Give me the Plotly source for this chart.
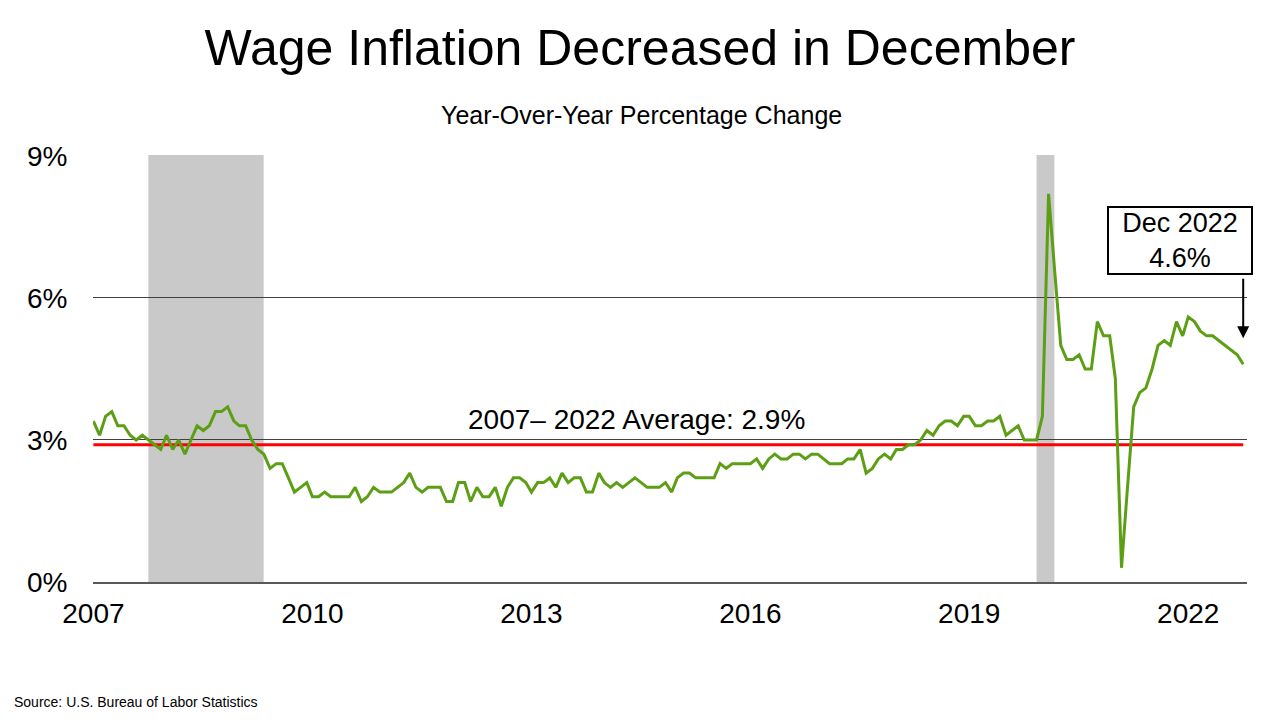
import pandas as pd
import plotly.graph_objs as go

# average hourly earnings, year-over-year % change, monthly from Mar 2007
wage_growth = [
    3.4, 3.1, 3.5, 3.6, 3.3, 3.3, 3.1, 3.0, 3.1, 3.0,            # 2007 Mar-Dec
    2.9, 2.8, 3.1, 2.8, 3.0, 2.7, 3.0, 3.3, 3.2, 3.3, 3.6, 3.6,  # 2008
    3.7, 3.4, 3.3, 3.3, 3.0, 2.8, 2.7, 2.4, 2.5, 2.5, 2.2, 1.9,  # 2009
    2.0, 2.1, 1.8, 1.8, 1.9, 1.8, 1.8, 1.8, 1.8, 2.0, 1.7, 1.8,  # 2010
    2.0, 1.9, 1.9, 1.9, 2.0, 2.1, 2.3, 2.0, 1.9, 2.0, 2.0, 2.0,  # 2011
    1.7, 1.7, 2.1, 2.1, 1.7, 2.0, 1.8, 1.8, 2.0, 1.6, 2.0, 2.2,  # 2012
    2.2, 2.1, 1.9, 2.1, 2.1, 2.2, 2.0, 2.3, 2.1, 2.2, 2.2, 1.9,  # 2013
    1.9, 2.3, 2.1, 2.0, 2.1, 2.0, 2.1, 2.2, 2.1, 2.0, 2.0, 2.0,  # 2014
    2.1, 1.9, 2.2, 2.3, 2.3, 2.2, 2.2, 2.2, 2.2, 2.5, 2.4, 2.5,  # 2015
    2.5, 2.5, 2.5, 2.6, 2.4, 2.6, 2.7, 2.6, 2.6, 2.7, 2.7, 2.6,  # 2016
    2.7, 2.7, 2.6, 2.5, 2.5, 2.5, 2.6, 2.6, 2.8, 2.3, 2.4, 2.6,  # 2017
    2.7, 2.6, 2.8, 2.8, 2.9, 2.9, 3.0, 3.2, 3.1, 3.3, 3.4, 3.4,  # 2018
    3.3, 3.5, 3.5, 3.3, 3.3, 3.4, 3.4, 3.5, 3.1, 3.2, 3.3, 3.0,  # 2019
    3.0, 3.0, 3.5, 8.2, 6.6, 5.0, 4.7, 4.7, 4.8, 4.5, 4.5, 5.5,  # 2020
    5.2, 5.2, 4.3, 0.3, 2.0, 3.7, 4.0, 4.1, 4.5, 5.0, 5.1, 5.0,  # 2021
    5.5, 5.2, 5.6, 5.5, 5.3, 5.2, 5.2, 5.1, 5.0, 4.9, 4.8, 4.6,  # 2022 Jan-Dec
]
months = pd.date_range("2007-03-01", periods=len(wage_growth), freq="MS")

average = 2.9
tick_years = [2007, 2010, 2013, 2016, 2019, 2022]
recessions = [("2007-12-01", "2009-06-30"), ("2020-02-01", "2020-04-30")]

FONT = "Arial, Liberation Sans, sans-serif"

# the page puts an 8px body margin round the figure, so it is drawn 8px smaller
W, H = 1272, 712

fig = go.Figure()

fig.add_trace(go.Scatter(x=[months[0], months[-1]], y=[average, average], mode="lines",
                         line=dict(color="#FF0000", width=3), hoverinfo="skip"))
fig.add_trace(go.Scatter(x=months, y=wage_growth, mode="lines",
                         line=dict(color="#5C9E14", width=3)))

for start, end in recessions:
    fig.add_vrect(x0=start, x1=end, fillcolor="#C9C9C9", opacity=1, line_width=0, layer="below")

fig.update_layout(
    width=W, height=H,
    margin=dict(l=85, r=33, t=147, b=138),
    paper_bgcolor="white", plot_bgcolor="white",
    showlegend=False,
    font=dict(family=FONT, color="black"),
    title=dict(text="Wage Inflation Decreased in December", x=(640 - 8) / W, xanchor="center",
               y=1 - 39 / H, yanchor="middle", font=dict(size=50, color="black")),
)

fig.update_xaxes(
    type="date", range=["2007-02-27", "2022-12-20"],
    tickvals=[f"{y}-03-01" for y in tick_years], ticktext=[str(y) for y in tick_years],
    showgrid=False, zeroline=False,
    showline=True, linecolor="#595959", linewidth=2,
    ticks="outside", ticklen=5, tickcolor="rgba(0,0,0,0)",
    tickfont=dict(size=28, color="black"),
)
fig.update_yaxes(
    range=[0, 9.02], tickvals=[0, 3, 6, 9], ticktext=["0%", "3%", "6%", "9%"],
    showgrid=True, gridcolor="#404040", gridwidth=1, zeroline=False,
    ticks="outside", ticklen=19, tickcolor="rgba(0,0,0,0)",
    tickfont=dict(size=28, color="black"),
)

fig.add_annotation(text="Year-Over-Year Percentage Change", xref="paper", yref="paper",
                   x=(641 - 93) / 1154, y=(582 - 116) / 426, xanchor="center", yanchor="middle",
                   showarrow=False, font=dict(size=25, color="black"))

fig.add_annotation(text=f"2007\u2013 2022 Average: {average}%", xref="paper", yref="y",
                   x=0.471, y=average, xanchor="center", yanchor="bottom", yshift=8,
                   showarrow=False, font=dict(size=28, color="black"))

# callout box and the arrow pointing at the last value
fig.add_annotation(text=f"Dec 2022<br>{wage_growth[-1]}%", xref="paper", yref="paper",
                   x=(1180 - 93) / 1154, y=(582 - 241) / 426, xanchor="center", yanchor="middle",
                   showarrow=False, width=142, borderpad=0,
                   bordercolor="black", borderwidth=2, bgcolor="white",
                   font=dict(size=27, color="black"))
fig.add_annotation(text="", x=months[-1], y=wage_growth[-1], ax=0, ay=-87,
                   showarrow=True, arrowhead=2, arrowsize=1.2, arrowwidth=2,
                   arrowcolor="black", standoff=26)

fig.add_annotation(text="Source: U.S. Bureau of Labor Statistics", xref="paper", yref="paper",
                   x=(12 - 93) / 1154, y=(582 - 702) / 426, xanchor="left", yanchor="middle",
                   showarrow=False, font=dict(size=14, color="black"))

fig.write_html("out.html")
